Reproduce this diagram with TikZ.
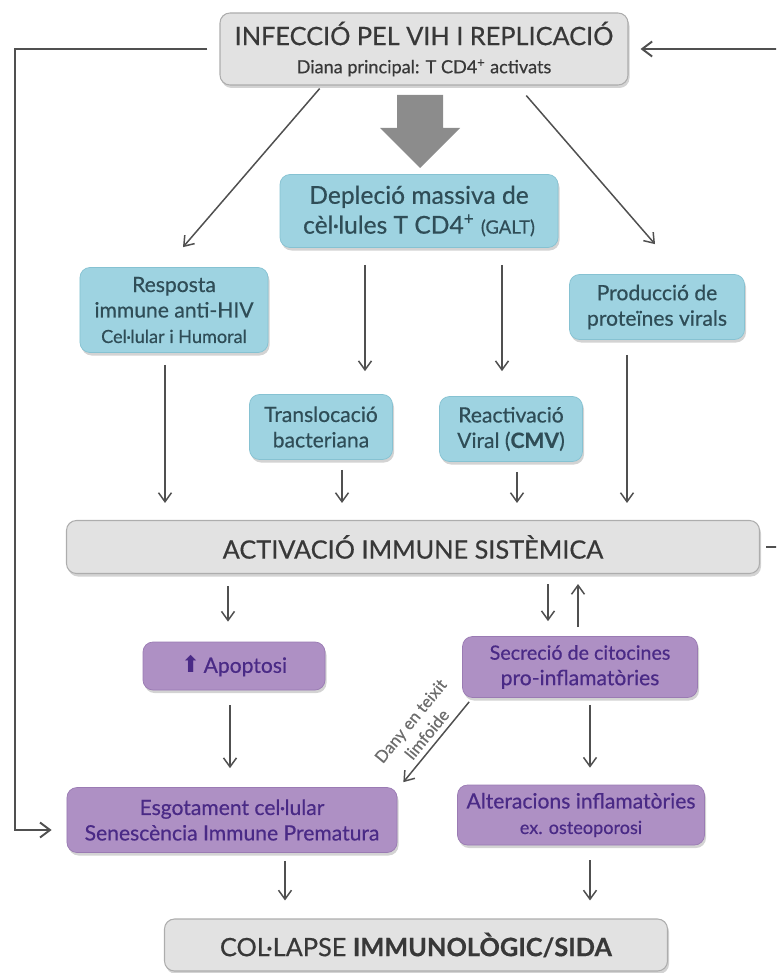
\documentclass[tikz,border=0pt]{standalone}
\usepackage{fontspec}
\setmainfont{Lato}[FakeBold=0.5]
\newfontfamily\symfont{DejaVu Sans}
\usetikzlibrary{arrows.meta,shadows,calc}
\definecolor{grisfons}{HTML}{E2E2E2}
\definecolor{grisvora}{HTML}{ADADAD}
\definecolor{blaufons}{HTML}{9ED3E1}
\definecolor{blauvora}{HTML}{86C2D2}
\definecolor{blautext}{HTML}{2F4D57}
\definecolor{lilafons}{HTML}{AE90C4}
\definecolor{lilavora}{HTML}{9A7BB3}
\definecolor{lilatext}{HTML}{4A2A86}
\definecolor{fletxagris}{HTML}{505050}
\definecolor{textgris}{HTML}{383838}
\tikzset{
  caixa/.style={rounded corners=2mm, align=center, inner sep=1pt,
    drop shadow={opacity=0.35, shadow xshift=0.3mm, shadow yshift=-0.6mm}},
  gris/.style={caixa, fill=grisfons, draw=grisvora, line width=0.6pt, text=textgris},
  blau/.style={caixa, fill=blaufons, draw=blauvora, line width=0.4pt, text=blautext},
  lila/.style={caixa, fill=lilafons, draw=lilavora, line width=0.4pt, text=lilatext},
  fletxa/.style={draw=fletxagris, line width=0.85pt, -{Straight Barb[length=1.8mm, width=2.6mm]}},
  retorn/.style={draw=fletxagris, line width=1.1pt},
  gruixuda/.style={fill=gray!90, draw=none},
  etiq/.style={font=\fontsize{9.5}{12}\selectfont, text=gray!85!black, inner sep=1pt},
  gran/.style={font=\fontsize{14.4}{17}\selectfont},
  mitja/.style={font=\fontsize{14}{17}\selectfont},
  petit/.style={font=\fontsize{12}{14.5}\selectfont}
}
\newcommand{\subt}[1]{{\fontsize{10.3}{12}\selectfont #1}}

\begin{document}
\begin{tikzpicture}[x=0.2mm, y=-0.2mm]
  \useasboundingbox (0,0) rectangle (776,973);
  \clip (0,0) rectangle (776,973);

  % nivell superior
  \node[gris, gran, minimum width=81.6mm, minimum height=14.4mm] (infeccio) at (424,49)
    {INFECCIÓ PEL VIH I REPLICACIÓ\\[-1pt]\subt{Diana principal: T CD4\textsuperscript{+} activats}};
  \fill[gruixuda] (397,95) -- (443,95) -- (443,128) -- (460,128) -- (420,168)
    -- (380,128) -- (397,128) -- cycle;

  \node[blau, mitja, minimum width=55.6mm, minimum height=14.6mm] (deplecio) at (419,211)
    {Depleció massiva de\\cèl·lules T CD4\textsuperscript{+} {\fontsize{10.5}{12}\selectfont(GALT)}};
  \node[blau, petit, minimum width=37.6mm, minimum height=17mm] (resposta) at (174,310)
    {Resposta\\immune anti-HIV\\\subt{Cel·lular i Humoral}};
  \node[blau, petit, minimum width=35mm, minimum height=13mm] (produccio) at (657,307)
    {Producció de\\proteïnes virals};
  \node[blau, petit, minimum width=28.6mm, minimum height=13mm] (transloc) at (321,427)
    {Translocació\\bacteriana};
  \node[blau, petit, minimum width=28.6mm, minimum height=13mm] (reactiv) at (511,429)
    {Reactivació\\Viral (\textbf{CMV})};

  % activacio
  \node[gris, gran, minimum width=138.6mm, minimum height=10.6mm] (activacio) at (413,547)
    {ACTIVACIÓ IMMUNE SISTÈMICA};

  \node[lila, petit, minimum width=36.4mm, minimum height=9.6mm] (apoptosi) at (234,666)
    {{\symfont\fontsize{13}{14}\selectfont ⬆}\,Apoptosi};
  \node[lila, petit, minimum width=47mm, minimum height=12.2mm] (secrecio) at (580,667)
    {\fontsize{11.2}{14}\selectfont Secreció de citocines\\pro-inflamatòries};
  \node[lila, petit, minimum width=66mm, minimum height=13mm] (esgot) at (232,820)
    {Esgotament cel·lular\\Senescència Immune Prematura};
  \node[lila, petit, minimum width=49.4mm, minimum height=12mm] (alter) at (581,815)
    {Alteracions inflamatòries\\\subt{ex. osteoporosi}};

  \node[gris, gran, minimum width=100.6mm, minimum height=10.4mm] (collapse) at (416,945)
    {COL·LAPSE \textbf{IMMUNOLÒGIC/SIDA}};

  % connectors
  \draw[fletxa] ($(infeccio.south west)!0.245!(infeccio.south east)+(0,3)$) -- ($(resposta.north)+(9,-20)$);
  \draw[fletxa] ($(infeccio.south west)!0.75!(infeccio.south east)+(0,10)$) -- ($(produccio.north)+(-2,-30)$);
  \draw[fletxa] ($(deplecio.south)+(-54,17)$) -- ($(transloc.north)+(44,-23)$);
  \draw[fletxa] ($(deplecio.south)+(83,17)$) -- ($(reactiv.north)+(-9,-25)$);
  \draw[fletxa] ($(resposta.south)+(-9,12)$) -- ($(activacio.north)+(-248,-17)$);
  \draw[fletxa] ($(transloc.south)+(21,10)$) -- ($(activacio.north)+(-71,-17)$);
  \draw[fletxa] ($(reactiv.south)+(6,10)$) -- ($(activacio.north)+(104,-17)$);
  \draw[fletxa] ($(produccio.south)+(-30,15)$) -- ($(activacio.north)+(214,-17)$);
  \draw[fletxa] ($(activacio.south)+(-185,12)$) -- ($(apoptosi.north)+(-6,-20)$);
  \draw[fletxa] ($(activacio.south)+(135,10)$) -- ($(secrecio.north)+(-32,-15)$);
  \draw[fletxa] ($(secrecio.north)+(-2,-9)$) -- ($(activacio.south)+(165,10)$);
  \draw[fletxa] ($(apoptosi.south)+(-4,15)$) -- ($(esgot.north)+(-2,-19)$);
  \draw[fletxa] ($(secrecio.south)+(10,7)$) -- ($(alter.north)+(9,-17)$);
  \draw[fletxa] ($(secrecio.south west)+(7,4)$) --
    node[etiq, sloped, above=2pt, align=center] {Dany en teixit\\limfoide} ($(esgot.north east)+(6,-5)$);
  \draw[fletxa] ($(esgot.south)+(53,8)$) -- ($(collapse.north)+(-131,-18)$);
  \draw[fletxa] ($(alter.south)+(9,15)$) -- ($(collapse.north)+(174,-18)$);

  % retroalimentacio
  \draw[retorn, -{Straight Barb[length=2mm, width=3mm]}] ($(infeccio.west)+(-12,0)$)
    -| ($(esgot.west)+(-52,10)$) -- ($(esgot.west)+(-15,10)$);
  \coordinate (fora) at (800,300);
  \draw[retorn, -{Straight Barb[length=2mm, width=3mm]}] ($(activacio.east)+(6,0)$)
    -| (fora) |- ($(infeccio.east)+(12,0)$);
\end{tikzpicture}
\end{document}
